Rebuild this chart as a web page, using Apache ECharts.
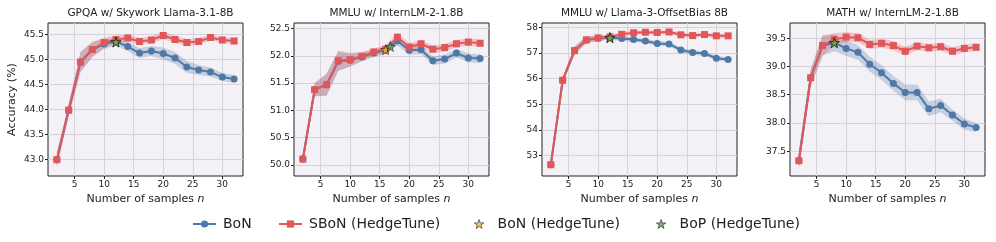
<!DOCTYPE html>
<html>
<head>
<meta charset="utf-8">
<script src="https://cdn.jsdelivr.net/npm/echarts@6/dist/echarts.min.js"></script>
<style>html,body{margin:0;padding:0;background:#fff}#c{width:996px;height:242px}</style>
</head>
<body>
<div id="c"></div>
<script>
// ---- data ----
const nSamples = [2,4,6,8,10,12,14,16,18,20,22,24,26,28,30,32];
const titles = ['GPQA w/ Skywork Llama-3.1-8B','MMLU w/ InternLM-2-1.8B','MMLU w/ Llama-3-OffsetBias 8B','MATH w/ InternLM-2-1.8B'];
const legendNames = ['BoN','SBoN (HedgeTune)','BoN (HedgeTune)','BoP (HedgeTune)'];

const bon1 = [43.00,43.99,44.95,45.20,45.31,45.36,45.26,45.13,45.17,45.12,45.03,44.85,44.79,44.75,44.65,44.61];
const sbon1 = [43.00,43.99,44.95,45.20,45.34,45.40,45.43,45.36,45.39,45.48,45.40,45.34,45.36,45.44,45.39,45.37];
const bonStd1 = [0.15,0.12,0.20,0.15,0.10,0.08,0.09,0.10,0.10,0.12,0.12,0.12,0.10,0.09,0.08,0.08];
const sbonStd1 = [0.15,0.12,0.20,0.15,0.10,0.08,0.07,0.07,0.07,0.07,0.07,0.07,0.07,0.06,0.06,0.06];

const bon2 = [50.11,51.38,51.47,51.90,51.92,51.98,52.05,52.10,52.27,52.10,52.11,51.91,51.94,52.05,51.96,51.95];
const sbon2 = [50.11,51.38,51.47,51.91,51.93,51.99,52.07,52.12,52.34,52.16,52.22,52.12,52.15,52.22,52.25,52.23];
const bonStd2 = [0.10,0.12,0.20,0.18,0.12,0.08,0.07,0.07,0.08,0.08,0.08,0.08,0.08,0.08,0.08,0.08];
const sbonStd2 = [0.10,0.12,0.20,0.18,0.12,0.08,0.07,0.07,0.08,0.07,0.07,0.07,0.07,0.07,0.07,0.07];

const bon3 = [52.65,55.94,57.09,57.51,57.58,57.60,57.57,57.53,57.47,57.37,57.35,57.12,57.02,56.98,56.80,56.75];
const sbon3 = [52.65,55.94,57.09,57.51,57.59,57.63,57.73,57.79,57.81,57.80,57.82,57.71,57.68,57.72,57.67,57.67];
const bonStd3 = [0.12,0.12,0.16,0.13,0.11,0.09,0.09,0.09,0.09,0.09,0.09,0.09,0.09,0.09,0.09,0.09];
const sbonStd3 = [0.12,0.12,0.16,0.13,0.09,0.08,0.08,0.08,0.08,0.08,0.08,0.08,0.08,0.08,0.08,0.08];

const bon4 = [37.33,38.80,39.37,39.42,39.32,39.25,39.04,38.89,38.70,38.54,38.54,38.25,38.31,38.14,37.98,37.92];
const sbon4 = [37.33,38.80,39.37,39.48,39.52,39.51,39.39,39.41,39.37,39.27,39.36,39.33,39.35,39.27,39.32,39.34];
const bonStd4 = [0.15,0.15,0.18,0.15,0.13,0.13,0.13,0.13,0.13,0.14,0.14,0.13,0.12,0.10,0.10,0.08];
const sbonStd4 = [0.15,0.15,0.18,0.11,0.09,0.08,0.08,0.08,0.08,0.08,0.07,0.07,0.07,0.07,0.07,0.07];

const bonHedge = [[12,45.35],[16,52.11],[12,57.60],[8,39.42]];
const bopHedge = [[12,45.35],[16.8,52.17],[12,57.60],[8,39.42]];

const xTicks = [5,10,15,20,25,30];
const yTicks1 = [43.0,43.5,44.0,44.5,45.0,45.5];
const yTicks2 = [50.0,50.5,51.0,51.5,52.0,52.5];
const yTicks3 = [53,54,55,56,57,58];
const yTicks4 = [37.5,38.0,38.5,39.0,39.5];
const yRanges = [[42.675,45.73],[49.80,52.60],[52.21,58.17],[37.06,39.77]];

// ---- chart ----
const bonArr = [bon1,bon2,bon3,bon4];
const sbonArr = [sbon1,sbon2,sbon3,sbon4];
const bonStdArr = [bonStd1,bonStd2,bonStd3,bonStd4];
const sbonStdArr = [sbonStd1,sbonStd2,sbonStd3,sbonStd4];
const yTicksArr = [yTicks1,yTicks2,yTicks3,yTicks4];
const decimals = [1,1,0,1];
const lefts = [48,294,542,790];
const legendLefts = [192,278,474,656];
const W = 195, TOP = 23, H = 153;
const BLUE = '#4e79a7', RED = '#e15759', YEL = '#f0b43c', GRN = '#59a14f';
const STAR = 'path://M50,0 L61.2,34.5 L97.6,34.5 L68.2,55.9 L79.4,90.5 L50,69.1 L20.6,90.5 L31.8,55.9 L2.4,34.5 L38.8,34.5 Z';
const FONT = 'DejaVu Sans';

function bandSeries(p, mean, std, fill) {
  const rows = nSamples.map((x, i) => [x, mean[i] - std[i], mean[i] + std[i]]);
  return {
    type: 'custom', xAxisIndex: p, yAxisIndex: p, silent: true, z: 1,
    data: rows, encode: {x: 0, y: [1, 2]},
    renderItem: function (params, api) {
      if (params.dataIndex !== 0) return null;
      const pts = [];
      for (let i = 0; i < rows.length; i++) pts.push(api.coord([rows[i][0], rows[i][2]]));
      for (let i = rows.length - 1; i >= 0; i--) pts.push(api.coord([rows[i][0], rows[i][1]]));
      return {type: 'polygon', shape: {points: pts}, style: {fill: fill, stroke: null}};
    }
  };
}

const grids = [], xAxes = [], yAxes = [], series = [], titleArr = [];
for (let p = 0; p < 4; p++) {
  grids.push({left: lefts[p], top: TOP, width: W, height: H, show: true,
    backgroundColor: '#f3f0f6', borderColor: '#222', borderWidth: 1});
  titleArr.push({text: titles[p], left: lefts[p] + W/2, top: 3, textAlign: 'center',
    textStyle: {fontFamily: FONT, fontSize: 10.5, fontWeight: 'normal', color: '#222'}});
  xAxes.push({type: 'value', gridIndex: p, min: 0.5, max: 33.5,
    name: 'Number of samples {i|n}', nameLocation: 'middle', nameGap: 14,
    nameTextStyle: {fontFamily: FONT, fontSize: 11, color: '#222', rich: {i: {fontStyle: 'italic', fontFamily: FONT, fontSize: 11, color: '#222'}}},
    axisLine: {show: false},
    axisTick: {show: true, length: 3, customValues: xTicks, lineStyle: {color: '#222'}},
    axisLabel: {customValues: xTicks, fontFamily: FONT, fontSize: 9, color: '#222', margin: 4},
    splitLine: {show: true, lineStyle: {color: '#d6d2da', width: 1}}});
  const dec = decimals[p];
  yAxes.push({type: 'value', gridIndex: p, min: yRanges[p][0], max: yRanges[p][1],
    name: p === 0 ? 'Accuracy (%)' : '', nameLocation: 'middle', nameGap: 30,
    nameTextStyle: {fontFamily: FONT, fontSize: 11, color: '#222'},
    axisLine: {show: false},
    axisTick: {show: true, length: 3, customValues: yTicksArr[p], lineStyle: {color: '#222'}},
    axisLabel: {customValues: yTicksArr[p], fontFamily: FONT, fontSize: 9, color: '#222', margin: 4,
      formatter: v => v.toFixed(dec)},
    splitLine: {show: true, lineStyle: {color: '#d6d2da', width: 1}}});

  series.push(bandSeries(p, bonArr[p], bonStdArr[p], 'rgba(78,121,167,0.28)'));
  series.push(bandSeries(p, sbonArr[p], sbonStdArr[p], 'rgba(225,87,89,0.28)'));
  series.push({type: 'line', name: legendNames[0], xAxisIndex: p, yAxisIndex: p,
    data: nSamples.map((x, i) => [x, bonArr[p][i]]), symbol: 'circle', symbolSize: 7,
    color: BLUE, lineStyle: {color: BLUE, width: 2}, itemStyle: {color: BLUE}, z: 3});
  series.push({type: 'line', name: legendNames[1], xAxisIndex: p, yAxisIndex: p,
    data: nSamples.map((x, i) => [x, sbonArr[p][i]]), symbol: 'rect', symbolSize: 7,
    color: RED, lineStyle: {color: RED, width: 2}, itemStyle: {color: RED}, z: 4});
  series.push({type: 'scatter', name: legendNames[2], xAxisIndex: p, yAxisIndex: p,
    data: [bonHedge[p]], symbol: STAR, symbolSize: 10,
    itemStyle: {color: YEL, borderColor: '#111', borderWidth: 0.7}, z: 5});
  series.push({type: 'scatter', name: legendNames[3], xAxisIndex: p, yAxisIndex: p,
    data: [bopHedge[p]], symbol: STAR, symbolSize: 10,
    itemStyle: {color: GRN, borderColor: '#111', borderWidth: 0.7}, z: 6});
}

const legendItems = [legendNames[0], legendNames[1],
  {name: legendNames[2], icon: STAR, itemStyle: {color: YEL, borderColor: '#111', borderWidth: 0.7}},
  {name: legendNames[3], icon: STAR, itemStyle: {color: GRN, borderColor: '#111', borderWidth: 0.7}}];
const legends = legendItems.map((it, k) => ({
  data: [it], top: 217, left: legendLefts[k], padding: 0, itemWidth: 23, itemHeight: 9,
  textStyle: {fontFamily: FONT, fontSize: 14, color: '#222', padding: [0, 0, 0, 2]}
}));

const chart = echarts.init(document.getElementById('c'), null, {renderer: 'canvas'});
chart.setOption({
  animation: false,
  backgroundColor: '#fff',
  title: titleArr,
  grid: grids, xAxis: xAxes, yAxis: yAxes, series: series,
  legend: legends
});
</script>
</body>
</html>
